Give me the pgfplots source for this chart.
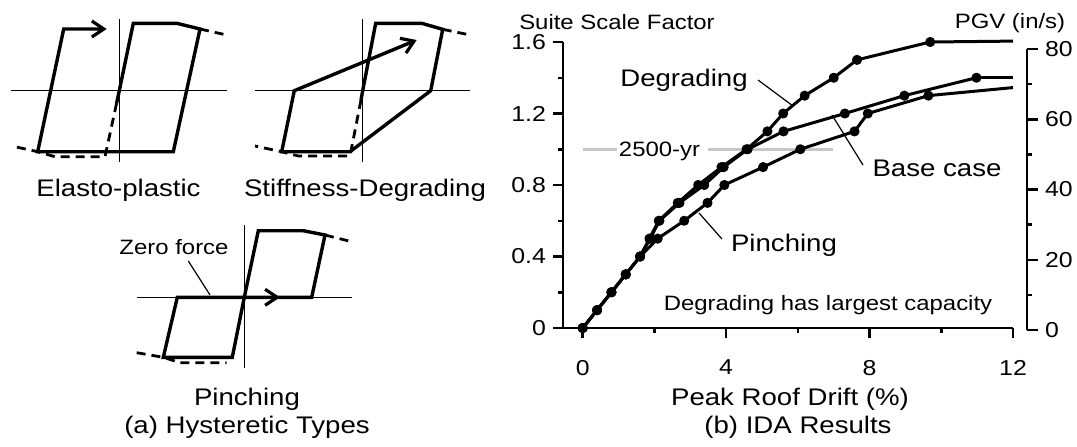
\documentclass[border=0pt]{standalone}
\usepackage{pgfplots}
\pgfplotsset{compat=1.18}
\usepackage{fontspec}
\setmainfont{Liberation Sans}[FakeStretch=1.15]
\usetikzlibrary{arrows.meta}

\newcommand\lbl{\fontsize{12}{14}\selectfont}
\newcommand\sml{\fontsize{10.4}{12}\selectfont}
\newcommand\tck{\fontsize{10.8}{13}\selectfont}

\tikzset{
  thinax/.style={black, line width=0.5pt},
  loopline/.style={black, line width=1.7pt},
  backbone/.style={black, line width=1.4pt, dash pattern=on 4.5pt off 3pt},
  barb/.style={-{Straight Barb[length=6pt,width=8pt,line width=1.6pt]}},
  leader/.style={black, line width=0.6pt},
  ida/.style={black, line width=1.5pt, line join=round, mark=*, mark size=1.75pt},
  tail/.style={black, line width=1.5pt},
}

\begin{document}
\begin{tikzpicture}
\useasboundingbox (0,0) rectangle (538.5pt,223pt);

% (a) schematic hysteretic loops and all captions, in pixel units (y downward)
\begin{axis}[
  at={(0pt,0pt)}, anchor=south west,
  width=538.5pt, height=223pt, scale only axis,
  xmin=0, xmax=1077, ymin=0, ymax=446, y dir=reverse,
  hide axis, clip=false,
]
% Elasto-plastic
\addplot[thinax] coordinates {(11,90.7) (227,90.7)};
\addplot[thinax] coordinates {(119.3,19) (119.3,162)};
\addplot[backbone] coordinates {(116.6,103.2) (105,156.7) (55,156.7) (37.7,151.7) (11.7,146)};
\addplot[backbone] coordinates {(200,29) (226.7,35)};
\addplot[loopline, barb] coordinates {(116.6,103.2) (119.3,90.7) (133.3,23.3) (176.7,23.3) (200,29) (173.3,151.7) (37.7,151.7) (63.7,29) (106.7,29)};

% Stiffness-Degrading
\addplot[thinax] coordinates {(255,90.7) (470,90.7)};
\addplot[thinax] coordinates {(362.7,19) (362.7,162)};
\addplot[backbone] coordinates {(361,100) (350,156) (298.3,156) (281.7,151.7) (255,146)};
\addplot[backbone] coordinates {(442.7,29.3) (470,35)};
\addplot[loopline, barb] coordinates {(361,100) (362.7,90.7) (375.7,23.3) (421.7,23.3) (442.7,29.3) (430.7,90.7) (350,151.7) (281.7,151.7) (294.3,90.7) (416.7,40)};

% Pinching
\addplot[thinax] coordinates {(136.7,297.3) (351.7,297.3)};
\addplot[thinax] coordinates {(244.3,225) (244.3,368.3)};
\addplot[backbone] coordinates {(325,235) (351.7,241.7)};
\addplot[backbone] coordinates {(136.7,352.7) (163.3,357.3) (180,362.7) (226.7,362.7)};
\addplot[loopline] coordinates {(244.3,297.3) (258.3,230.7) (303.3,230.7) (325,235) (311.7,297.3) (177.3,297.3) (163.3,357.3) (232.3,357.3) (244.3,297.3)};
\addplot[loopline, barb] coordinates {(244.3,297.3) (280,297.3)};
\addplot[leader] coordinates {(188.3,261) (210,295)};
\node[anchor=base, font=\sml] at (axis cs:174,254) {Zero force};

\node[anchor=base, font=\lbl] at (axis cs:118.5,196.7) {Elasto-plastic};
\node[anchor=base, font=\lbl] at (axis cs:365,196.7) {Stiffness-Degrading};
\node[anchor=base, font=\lbl] at (axis cs:247,405) {Pinching};
\node[anchor=base, font=\lbl] at (axis cs:247,433) {(a) Hysteretic Types};

% (b) captions and curve labels
\node[anchor=base, font=\lbl] at (axis cs:798,433) {(b) IDA Results};
\node[anchor=base, font=\lbl] at (axis cs:790,405) {Peak Roof Drift (\%)};
\node[anchor=base, font=\sml] at (axis cs:617,29.3) {Suite Scale Factor};
\node[anchor=base, font=\sml] at (axis cs:1010,28.5) {PGV (in/s)};
\node[anchor=base, font=\lbl] at (axis cs:684,86) {Degrading};
\addplot[leader] coordinates {(758,80) (793,106)};
\node[anchor=base, font=\lbl] at (axis cs:937,176.5) {Base case};
\addplot[leader] coordinates {(832,115) (863,165)};
\node[anchor=base, font=\lbl] at (axis cs:784,251.5) {Pinching};
\addplot[leader] coordinates {(699,213) (722,239)};
\node[anchor=base, font=\sml] at (axis cs:828,310.5) {Degrading has largest capacity};
\node[anchor=base, font=\sml] at (axis cs:659.5,156.5) {2500-yr};
\end{axis}

% (b) IDA curves: suite scale factor vs. peak roof drift
\begin{axis}[
  at={(281.5pt,59pt)}, anchor=south west,
  width=225pt, height=143pt, scale only axis,
  xmin=-0.55, xmax=12, ymin=0, ymax=1.6,
  axis x line*=bottom, axis y line*=left,
  axis line style={line width=1.25pt},
  tick align=outside,
  major tick length=5pt, minor tick length=2.5pt,
  tick style={line width=1.25pt, black},
  xtick={0,4,8,12}, minor xtick={2,6,10},
  xticklabels={0,4,8,12},
  ytick={0,0.4,0.8,1.2,1.6}, minor ytick={0.2,0.6,1.0,1.4},
  yticklabels={0,0.4,0.8,1.2,1.6},
  ticklabel style={font=\tck},
  xticklabel style={yshift=-7.5pt},
  clip=false,
]
% 2500-yr hazard level
\addplot[color=black!22, line width=1.3pt] coordinates {(0,1.0) (0.96,1.0)};
\addplot[color=black!22, line width=1.3pt] coordinates {(3.49,1.0) (6.97,1.0)};

% Degrading
\addplot[ida] coordinates {
  (0,0) (0.4,0.1) (0.8,0.2) (1.2,0.3) (1.6,0.4) (1.86,0.5) (2.12,0.6)
  (2.65,0.7) (3.22,0.8) (3.87,0.9) (4.57,1.0) (5.15,1.1) (5.59,1.2)
  (6.19,1.3) (7.0,1.4) (7.65,1.5) (9.69,1.6)};
\addplot[tail] coordinates {(9.69,1.6) (12,1.605)};

% Base case
\addplot[ida] coordinates {
  (0,0) (0.4,0.1) (0.8,0.2) (1.2,0.3) (1.6,0.4) (1.88,0.5) (2.14,0.6)
  (2.7,0.7) (3.39,0.8) (3.93,0.9) (4.6,1.0) (5.6,1.1) (7.31,1.2)
  (8.97,1.3) (10.98,1.4)};
\addplot[tail] coordinates {(10.98,1.4) (12,1.4)};

% Pinching
\addplot[ida] coordinates {
  (0,0) (0.4,0.1) (0.8,0.2) (1.2,0.3) (1.6,0.4) (2.09,0.5) (2.83,0.6)
  (3.48,0.7) (3.95,0.8) (5.03,0.9) (6.07,1.0) (7.58,1.1) (7.95,1.2)
  (9.64,1.3)};
\addplot[tail] coordinates {(9.64,1.3) (12,1.345)};
\end{axis}

% PGV axis on the right
\begin{axis}[
  at={(281.5pt,58pt)}, anchor=south west,
  width=232pt, height=140.5pt, scale only axis,
  xmin=-0.55, xmax=12.39, ymin=0, ymax=80,
  axis y line*=right, hide x axis,
  axis line style={line width=1.25pt},
  tick align=outside,
  major tick length=5.5pt, minor tick length=2.5pt,
  tick style={line width=1.25pt, black},
  ytick={0,20,40,60,80}, minor ytick={10,30,50,70},
  yticklabels={0,20,40,60,80},
  ticklabel style={font=\tck},
]
\end{axis}
\end{tikzpicture}
\end{document}
